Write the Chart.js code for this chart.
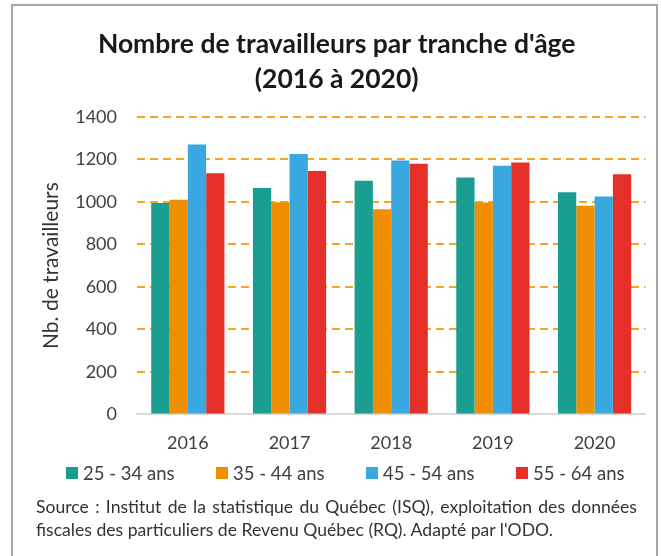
<!DOCTYPE html>
<html>
<head>
<meta charset="utf-8">
<script src="https://cdn.jsdelivr.net/npm/chart.js@4.4.0/dist/chart.umd.min.js"></script>
<style>
	html, body { margin: 0; padding: 0; background: #fff; overflow: hidden; width: 661px; height: 556px; }
	#frame { position: absolute; left: 11px; top: 4px; width: 647px; height: 600px; border: 2px solid #a6a6a6; box-sizing: border-box; }
	#chart { position: absolute; left: 0; top: 0; }
	#legend { position: absolute; left: 66px; top: 462px; display: flex; font-family: Lato, sans-serif; font-size: 18.5px; color: #404040; }
	#legend .item { width: 150px; display: flex; align-items: center; white-space: nowrap; }
	#legend .box { width: 12px; height: 12px; margin-right: 5px; }
	#source { position: absolute; left: 36px; top: 495px; width: 601px; font-family: Lato, sans-serif; font-size: 17.6px; line-height: 23px; color: #333; }
	#source .l1 { text-align: justify; text-align-last: justify; }
</style>
</head>
<body>
<div id="frame"></div>
<canvas id="chart" width="661" height="478"></canvas>
<div id="legend"></div>
<div id="source">
	<div class="l1">Source : Institut de la statistique du Québec (ISQ), exploitation des données</div>
	<div>fiscales des particuliers de Revenu Québec (RQ). Adapté par l'ODO.</div>
</div>
<script>
const years = [ '2016', '2017', '2018', '2019', '2020' ];
const ageGroups = [ '25 - 34 ans', '35 - 44 ans', '45 - 54 ans', '55 - 64 ans' ];
const colors = [ '#1a9e92', '#ef8f00', '#3aa8e0', '#e5302a' ];

const age25to34 = [ 995, 1065, 1100, 1115, 1045 ];
const age35to44 = [ 1010, 998, 965, 997, 982 ];
const age45to54 = [ 1270, 1225, 1195, 1170, 1025 ];
const age55to64 = [ 1135, 1145, 1180, 1185, 1130 ];

const seriesValues = [ age25to34, age35to44, age45to54, age55to64 ];

const ctx = document.getElementById('chart').getContext('2d');

// bar chart
const barChart = new Chart(ctx, {
	type: 'bar',

	data: {
		labels: years,
		datasets: ageGroups.map((label, i) => ({
			label: label,
			data: seriesValues[i],
			backgroundColor: colors[i],
			categoryPercentage: 0.72,
			barPercentage: 1
		}))
	},

	options: {
		responsive: false,
		animation: false,
		layout: {
			padding: { left: 28, right: 15.6, top: 0, bottom: 6 }
		},
		scales: {
			x: {
				grid: { display: false, drawTicks: false },
				border: { display: true, color: '#d9d9d9', width: 2 },
				ticks: {
					padding: 18,
					color: '#404040',
					font: { family: 'Lato', size: 18 }
				}
			},
			y: {
				min: 0,
				max: 1400,
				afterFit: function(scale) {
					scale.width = 109;
				},
				ticks: {
					stepSize: 200,
					padding: 20,
					color: '#404040',
					font: { family: 'Lato', size: 18 },
					callback: function(value) {
						return String(value);
					}
				},
				grid: {
					drawTicks: false,
					lineWidth: 2,
					color: function(c) {
						return c.tick && c.tick.value === 0 ? 'rgba(0,0,0,0)' : '#f5a623';
					}
				},
				border: { display: false, dash: [ 8, 5 ] },
				title: {
					display: true,
					text: 'Nb. de travailleurs',
					color: '#333',
					padding: { top: 10.4, bottom: 0 },
					font: { family: 'Lato', size: 21 }
				}
			}
		},
		plugins: {
			legend: { display: false },
			tooltip: { enabled: false },
			title: {
				display: true,
				text: [ "Nombre de travailleurs par tranche d'âge", '(2016 à 2020)' ],
				color: '#1a1a1a',
				padding: { top: 26.4, bottom: 20 },
				font: { family: 'Lato', size: 26.5, weight: 'bold', lineHeight: 1.33 }
			}
		}
	}
});

// html legend
const legend = document.getElementById('legend');
barChart.data.datasets.forEach((ds) => {
	const item = document.createElement('div');
	item.className = 'item';
	const box = document.createElement('span');
	box.className = 'box';
	box.style.background = ds.backgroundColor;
	item.appendChild(box);
	item.appendChild(document.createTextNode(ds.label));
	legend.appendChild(item);
});
</script>
</body>
</html>
